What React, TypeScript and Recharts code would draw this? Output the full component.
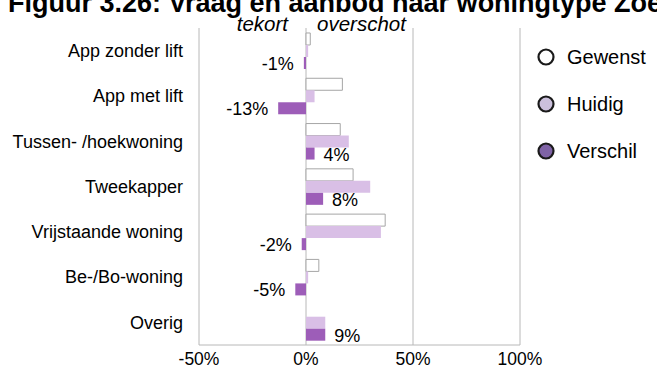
import React from "react";
import { BarChart, Bar, XAxis, YAxis, CartesianGrid, LabelList } from "recharts";

const categories = [
  "App zonder lift",
  "App met lift",
  "Tussen- /hoekwoning",
  "Tweekapper",
  "Vrijstaande woning",
  "Be-/Bo-woning",
  "Overig",
];
const gewenst = [2, 17, 16, 22, 37, 6, 0];
const huidig = [1, 4, 20, 30, 35, 1, 9];
const verschil = [-1, -13, 4, 8, -2, -5, 9];
const xTicks = [-50, 0, 50, 100];
const seriesNames = ["Gewenst", "Huidig", "Verschil"];
const title = "Figuur 3.26: Vraag en aanbod naar woningtype Zoetermeer";

const data = categories.map((c, i) => ({
  name: c,
  gewenst: gewenst[i],
  huidig: huidig[i],
  verschil: verschil[i],
}));

const FONT = "'Liberation Sans', Arial, sans-serif";

const legendColors = ["#ffffff", "#cbc0dc", "#7f63a6"];

const VerschilLabel = (props: any) => {
  const { x, y, width, height, value } = props;
  const left = Math.min(x, x + width);
  const right = Math.max(x, x + width);
  const cy = y + height / 2 + 1;
  const neg = value < 0;
  return (
    <text
      x={neg ? left - 10 : right + 9}
      y={cy}
      textAnchor={neg ? "end" : "start"}
      dominantBaseline="central"
      fontFamily={FONT}
      fontSize={18}
      fill="#000"
    >
      {`${value}%`}
    </text>
  );
};

export default function App() {
  return (
    <div style={{ position: "absolute", left: 0, top: 0, width: 657, height: 376, background: "#fff", overflow: "hidden" }}>
      <BarChart
        width={657}
        height={376}
        data={data}
        layout="vertical"
        margin={{ top: 28, right: 137, bottom: 0, left: 0 }}
        barCategoryGap="11%"
        barGap={0}
      >
        <CartesianGrid horizontal={false} vertical stroke="#b8b8b8" />
        <XAxis
          type="number"
          domain={[-50, 100]}
          ticks={xTicks}
          tickFormatter={(v) => `${v}%`}
          axisLine={{ stroke: "#b8b8b8" }}
          tickLine={false}
          height={31}
          tick={{ fill: "#000", fontFamily: FONT, fontSize: 17.5 }}
          tickMargin={2}
        />
        <YAxis
          type="category"
          dataKey="name"
          width={199}
          axisLine={false}
          tickLine={false}
          tickMargin={10}
          tick={{ fill: "#000", fontFamily: FONT, fontSize: 18 }}
        />
        <Bar dataKey="gewenst" name="Gewenst" fill="#ffffff" stroke="#a6a6a6" strokeWidth={1} isAnimationActive={false} />
        <Bar dataKey="huidig" name="Huidig" fill="#d9bfe6" isAnimationActive={false} />
        <Bar dataKey="verschil" name="Verschil" fill="#9d5db8" isAnimationActive={false}>
          <LabelList dataKey="verschil" content={<VerschilLabel />} />
        </Bar>
      </BarChart>
      <svg width={657} height={376} style={{ position: "absolute", left: 0, top: 0, pointerEvents: "none" }}>
        <text x={8} y={12} fontFamily={FONT} fontWeight="bold" fontSize={27} fill="#000">
          {title}
        </text>
        <text x={288} y={31} textAnchor="end" fontFamily={FONT} fontStyle="italic" fontSize={20.5} fill="#000">
          tekort
        </text>
        <text x={317} y={31} textAnchor="start" fontFamily={FONT} fontStyle="italic" fontSize={20.5} fill="#000">
          overschot
        </text>
        {seriesNames.map((n, i) => (
          <g key={n}>
            <circle cx={546} cy={57 + i * 47} r={7.5} fill={legendColors[i]} stroke="#1a1a1a" strokeWidth={2.2} />
            <text x={567} y={57 + i * 47} dominantBaseline="central" fontFamily={FONT} fontSize={20} fill="#000">
              {n}
            </text>
          </g>
        ))}
      </svg>
    </div>
  );
}
